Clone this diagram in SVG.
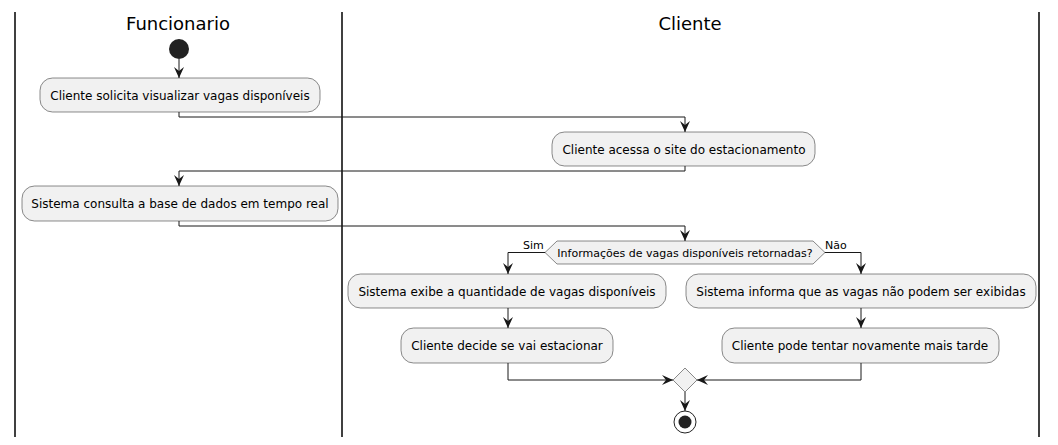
<svg xmlns="http://www.w3.org/2000/svg" width="1058" height="445" viewBox="0 0 1058 445">
<style>
.lane{stroke:#000;stroke-width:1.5}
.title{font-family:"DejaVu Sans",sans-serif;font-size:18px;fill:#000;text-anchor:middle}
.act rect{fill:#F1F1F1;stroke:#181818;stroke-width:0.5}
.act text,.lbl{font-family:"DejaVu Sans",sans-serif;font-size:12px;fill:#000;text-anchor:middle}
.dec polygon{fill:#F1F1F1;stroke:#181818;stroke-width:0.5}
.small{font-family:"DejaVu Sans",sans-serif;font-size:11px;fill:#000}
.edge{fill:none;stroke:#181818;stroke-width:1}
</style>
<defs>
<marker id="ah" viewBox="0 0 11 10" refX="11" refY="5" markerWidth="11" markerHeight="10" markerUnits="userSpaceOnUse" orient="auto">
<polygon points="0,0 11,5 0,10 4,5" fill="#181818"/>
</marker>
</defs>
<rect width="1058" height="445" fill="#fff"/>
<g id="lanes">
<line class="lane" x1="15" y1="12" x2="15" y2="437"/>
<line class="lane" x1="342" y1="12" x2="342" y2="437"/>
<line class="lane" x1="1039" y1="12" x2="1039" y2="437"/>
<text class="title" x="178" y="30">Funcionario</text>
<text class="title" x="690" y="30">Cliente</text>
</g>
<g id="start"><circle cx="179" cy="49" r="10" fill="#222"/></g>
<g id="a1" class="act"><rect x="40" y="78" width="280" height="34" rx="12.5"/><text x="180" y="99.5">Cliente solicita visualizar vagas disponíveis</text></g>
<g id="a2" class="act"><rect x="552" y="132" width="263" height="34" rx="12.5"/><text x="684" y="153.5">Cliente acessa o site do estacionamento</text></g>
<g id="a3" class="act"><rect x="22" y="186" width="316" height="35" rx="12.5"/><text x="180" y="207.5">Sistema consulta a base de dados em tempo real</text></g>
<g id="d1" class="dec"><polygon points="545,252.5 557,241 813,241 825,252.5 813,264 557,264"/><text class="small" x="685" y="256.5" text-anchor="middle">Informações de vagas disponíveis retornadas?</text></g>
<g id="a4" class="act"><rect x="348" y="274" width="318" height="34" rx="12.5"/><text x="507" y="295.5">Sistema exibe a quantidade de vagas disponíveis</text></g>
<g id="a5" class="act"><rect x="401" y="328" width="212" height="35" rx="12.5"/><text x="507" y="349.5">Cliente decide se vai estacionar</text></g>
<g id="a6" class="act"><rect x="686" y="274" width="350" height="34" rx="12.5"/><text x="861" y="295.5">Sistema informa que as vagas não podem ser exibidas</text></g>
<g id="a7" class="act"><rect x="722" y="328" width="277" height="35" rx="12.5"/><text x="860" y="349.5">Cliente pode tentar novamente mais tarde</text></g>
<g id="merge" class="dec"><polygon points="673,380 685,368 697,380 685,392"/></g>
<g id="end"><circle cx="685" cy="422" r="11" fill="none" stroke="#222" stroke-width="1"/><circle cx="685" cy="422" r="6.5" fill="#222"/></g>
<g id="connectors">
<path class="edge" d="M179,59 V78" marker-end="url(#ah)"/>
<path class="edge" d="M179,112 V117 H685 V132" marker-end="url(#ah)"/>
<path class="edge" d="M685,166 V171 H179 V186" marker-end="url(#ah)"/>
<path class="edge" d="M179,221 V226 H685 V241" marker-end="url(#ah)"/>
<path class="edge" d="M545,252.5 H508 V274" marker-end="url(#ah)"/>
<path class="edge" d="M825,252.5 H861 V274" marker-end="url(#ah)"/>
<path class="edge" d="M508,308 V328" marker-end="url(#ah)"/>
<path class="edge" d="M861,308 V328" marker-end="url(#ah)"/>
<path class="edge" d="M508,363 V380 H673" marker-end="url(#ah)"/>
<path class="edge" d="M861,363 V380 H697" marker-end="url(#ah)"/>
<path class="edge" d="M685,392 V411" marker-end="url(#ah)"/>
<text class="small" x="523" y="249">Sim</text>
<text class="small" x="825" y="249">Não</text>
</g>
</svg>
